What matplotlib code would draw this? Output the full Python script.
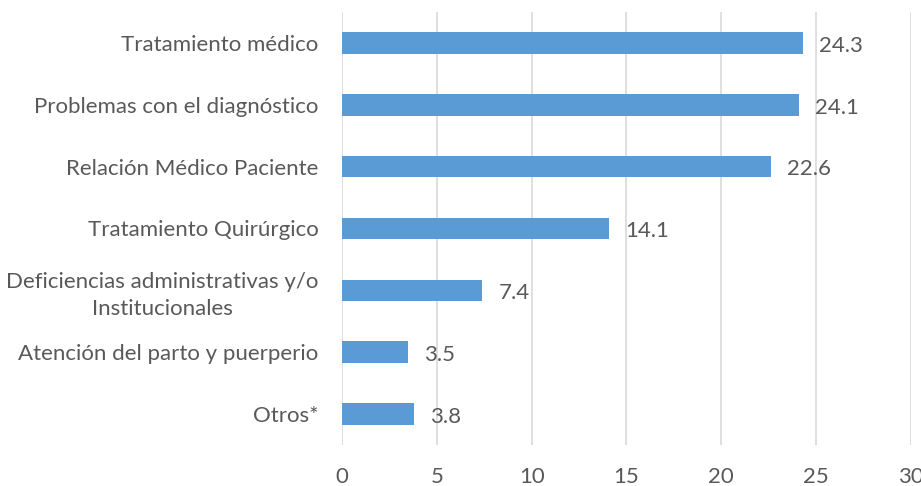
import matplotlib.pyplot as plt

categories = ["Tratamiento médico",
              "Problemas con el diagnóstico",
              "Relación Médico Paciente",
              "Tratamiento Quirúrgico",
              "Deficiencias administrativas y/o\nInstitucionales",
              "Atención del parto y puerperio",
              "Otros*"]
values = [24.3, 24.1, 22.6, 14.1, 7.4, 3.5, 3.8]
xticks = [0, 5, 10, 15, 20, 25, 30]

plt.rcParams['font.family'] = ['Lato', 'DejaVu Sans']
text_color = "#595959"
fs = 16

fig = plt.figure(figsize=(9.21, 4.86), dpi=100)
ax = fig.add_axes([0.3713, 0.0844, 0.6178, 0.8909])

pos = list(range(len(categories)))[::-1]
ax.barh(pos, values, height=0.35, color="#5B9BD5", zorder=3)

for p, v in zip(pos, values):
    ax.annotate("{:.1f}".format(v), (v, p), xytext=(11.5, -2), textcoords="offset points",
                va="center", ha="left", fontsize=fs, color=text_color)

ax.set_xlim(0, 30)
ax.set_ylim(-0.5, len(categories) - 0.5)
ax.set_xticks(xticks)
ax.set_yticks(pos)
ax.set_yticklabels(categories, fontsize=fs, color=text_color)
for lbl in ax.get_yticklabels():
    lbl.set_multialignment("center")
    lbl.set_linespacing(1.4)
ax.tick_params(axis="y", length=0, pad=17)
ax.tick_params(axis="x", length=0, pad=16, labelsize=fs, labelcolor=text_color)
ax.grid(axis="x", color="#D9D9D9", linewidth=1.2, zorder=0)
for s in ax.spines.values():
    s.set_visible(False)

fig.savefig("out.png", dpi=100)
